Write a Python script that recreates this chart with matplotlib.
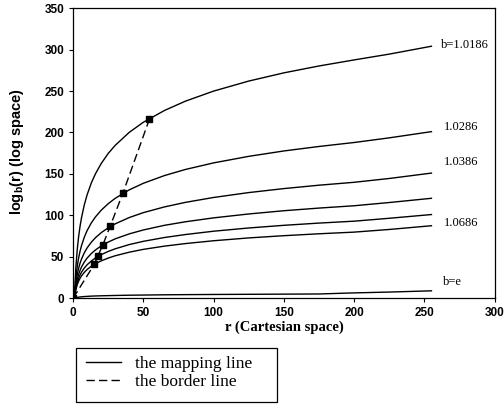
import matplotlib
matplotlib.use("Agg")
import matplotlib.pyplot as plt
from matplotlib.lines import Line2D
from matplotlib.patches import Rectangle

plt.rcParams["mathtext.fontset"] = "custom"
plt.rcParams["mathtext.rm"] = "Liberation Sans:bold"
plt.rcParams["mathtext.default"] = "rm"

# r samples (Cartesian space)
r = [1, 1.5, 2, 3, 4, 5, 6, 8, 10, 13, 16, 20, 25, 30, 40, 50, 65, 80, 100, 125, 150, 175, 200, 225, 255]

# log_b(r), one list per base
b_1_0186 = [0, 22.0, 37.6, 59.6, 75.2, 87.3, 97.2, 112.8, 124.9, 139.2, 150.4, 162.5, 174.7, 184.5,
            200.2, 212.3, 226.5, 237.8, 249.9, 262.0, 271.9, 280.2, 287.5, 294.5, 304]
b_1_0286 = [0, 14.4, 24.6, 39.0, 49.2, 57.1, 63.5, 73.7, 81.7, 91.0, 98.3, 106.2, 114.1, 120.6,
            130.8, 138.7, 148.0, 155.4, 163.3, 171.2, 177.7, 183.1, 187.9, 193.5, 201]
b_1_0386 = [0, 10.7, 18.3, 29.0, 36.6, 42.5, 47.3, 54.9, 60.8, 67.7, 73.2, 79.1, 85.0, 89.8,
            97.4, 103.3, 110.2, 115.7, 121.6, 127.5, 132.3, 136.4, 139.9, 144.5, 151]
b_1_0486 = [0, 8.5, 14.6, 23.1, 29.2, 33.9, 37.8, 43.8, 48.5, 54.0, 58.4, 63.1, 67.8, 71.7,
            77.7, 82.4, 88.0, 92.3, 97.0, 101.7, 105.6, 108.8, 111.6, 115.5, 120.6]
b_1_0586 = [0, 7.1, 12.2, 19.3, 24.3, 28.3, 31.5, 36.5, 40.4, 45.0, 48.7, 52.6, 56.5, 59.7,
            64.8, 68.7, 73.3, 76.9, 80.9, 84.8, 88.0, 90.7, 93.0, 96.5, 101]
b_1_0686 = [0, 6.1, 10.4, 16.6, 20.9, 24.3, 27.0, 31.3, 34.7, 38.7, 41.8, 45.1, 48.5, 51.3,
            55.6, 59.0, 62.9, 66.0, 69.4, 72.8, 75.5, 77.8, 79.8, 83.0, 87.5]
b_e = [0, 0.4, 0.7, 1.1, 1.4, 1.6, 1.8, 2.1, 2.3, 2.6, 2.8, 3.0, 3.2, 3.4,
       3.7, 3.9, 4.2, 4.4, 4.6, 4.8, 5.0, 5.2, 6.5, 7.5, 9]

curvas = [b_1_0186, b_1_0286, b_1_0386, b_1_0486, b_1_0586, b_1_0686, b_e]

# border line points
borde_r = [0, 15.1, 17.6, 21.1, 26.4, 35.5, 54.3]
borde_v = [0, 41, 51, 64, 87, 127, 216]

# curve labels
etiquetas = ["b=1.0186", "1.0286", "1.0386", "1.0686", "b=e"]
etiq_r = [262, 264, 264, 264, 263]
etiq_v = [305, 206, 164, 91, 20]

fig = plt.figure(figsize=(5.04, 4.05), dpi=100)
ax = fig.add_axes([0.145, 0.2635, 0.8365, 0.7165])

for v in curvas:
    ax.plot(r, v, color="black", linewidth=1.0)
ax.plot(borde_r, borde_v, "--", color="black", linewidth=1.0, dashes=(6, 3),
        marker="s", markersize=5, markerfacecolor="black")

for t, x, y in zip(etiquetas, etiq_r, etiq_v):
    ax.text(x, y, t, family="Liberation Serif", fontsize=9, va="center", ha="left")

ax.set_xlim(0, 300)
ax.set_ylim(0, 350)
ax.set_xticks(range(0, 301, 50))
ax.set_yticks(range(0, 351, 50))
ax.tick_params(direction="out", length=3, width=0.8, labelsize=8.5)
for lab in ax.get_xticklabels() + ax.get_yticklabels():
    lab.set_family("Liberation Sans")
    lab.set_fontweight("bold")
for s in ax.spines.values():
    s.set_linewidth(0.9)

ax.set_xlabel("r (Cartesian space)", family="Liberation Serif", fontweight="bold", fontsize=10.5, labelpad=1)
fig.text(17 / 504, 1 - 152 / 405, r"log$_\mathrm{b}$(r) (log space)", family="Liberation Sans",
         fontweight="bold", fontsize=10.5, rotation=90, ha="center", va="center")

# legend below the plot
fig.patches.append(Rectangle((76 / 504, 3 / 405), 201 / 504, 54 / 405, transform=fig.transFigure,
                             fill=False, edgecolor="black", linewidth=0.9))
manejadores = [Line2D([0], [0], color="black", linewidth=1.0),
               Line2D([0], [0], color="black", linewidth=1.0, linestyle="--", dashes=(6, 3))]
fig.legend(manejadores, ["the mapping line", "the border line"],
           loc="upper left", bbox_to_anchor=(86 / 504, 1 - 356 / 405), frameon=False,
           handlelength=2.0, handletextpad=0.8, borderpad=0, borderaxespad=0, labelspacing=0.1,
           prop={"family": "Liberation Serif", "size": 12.5})

fig.savefig("out.png", dpi=100)
plt.close(fig)
